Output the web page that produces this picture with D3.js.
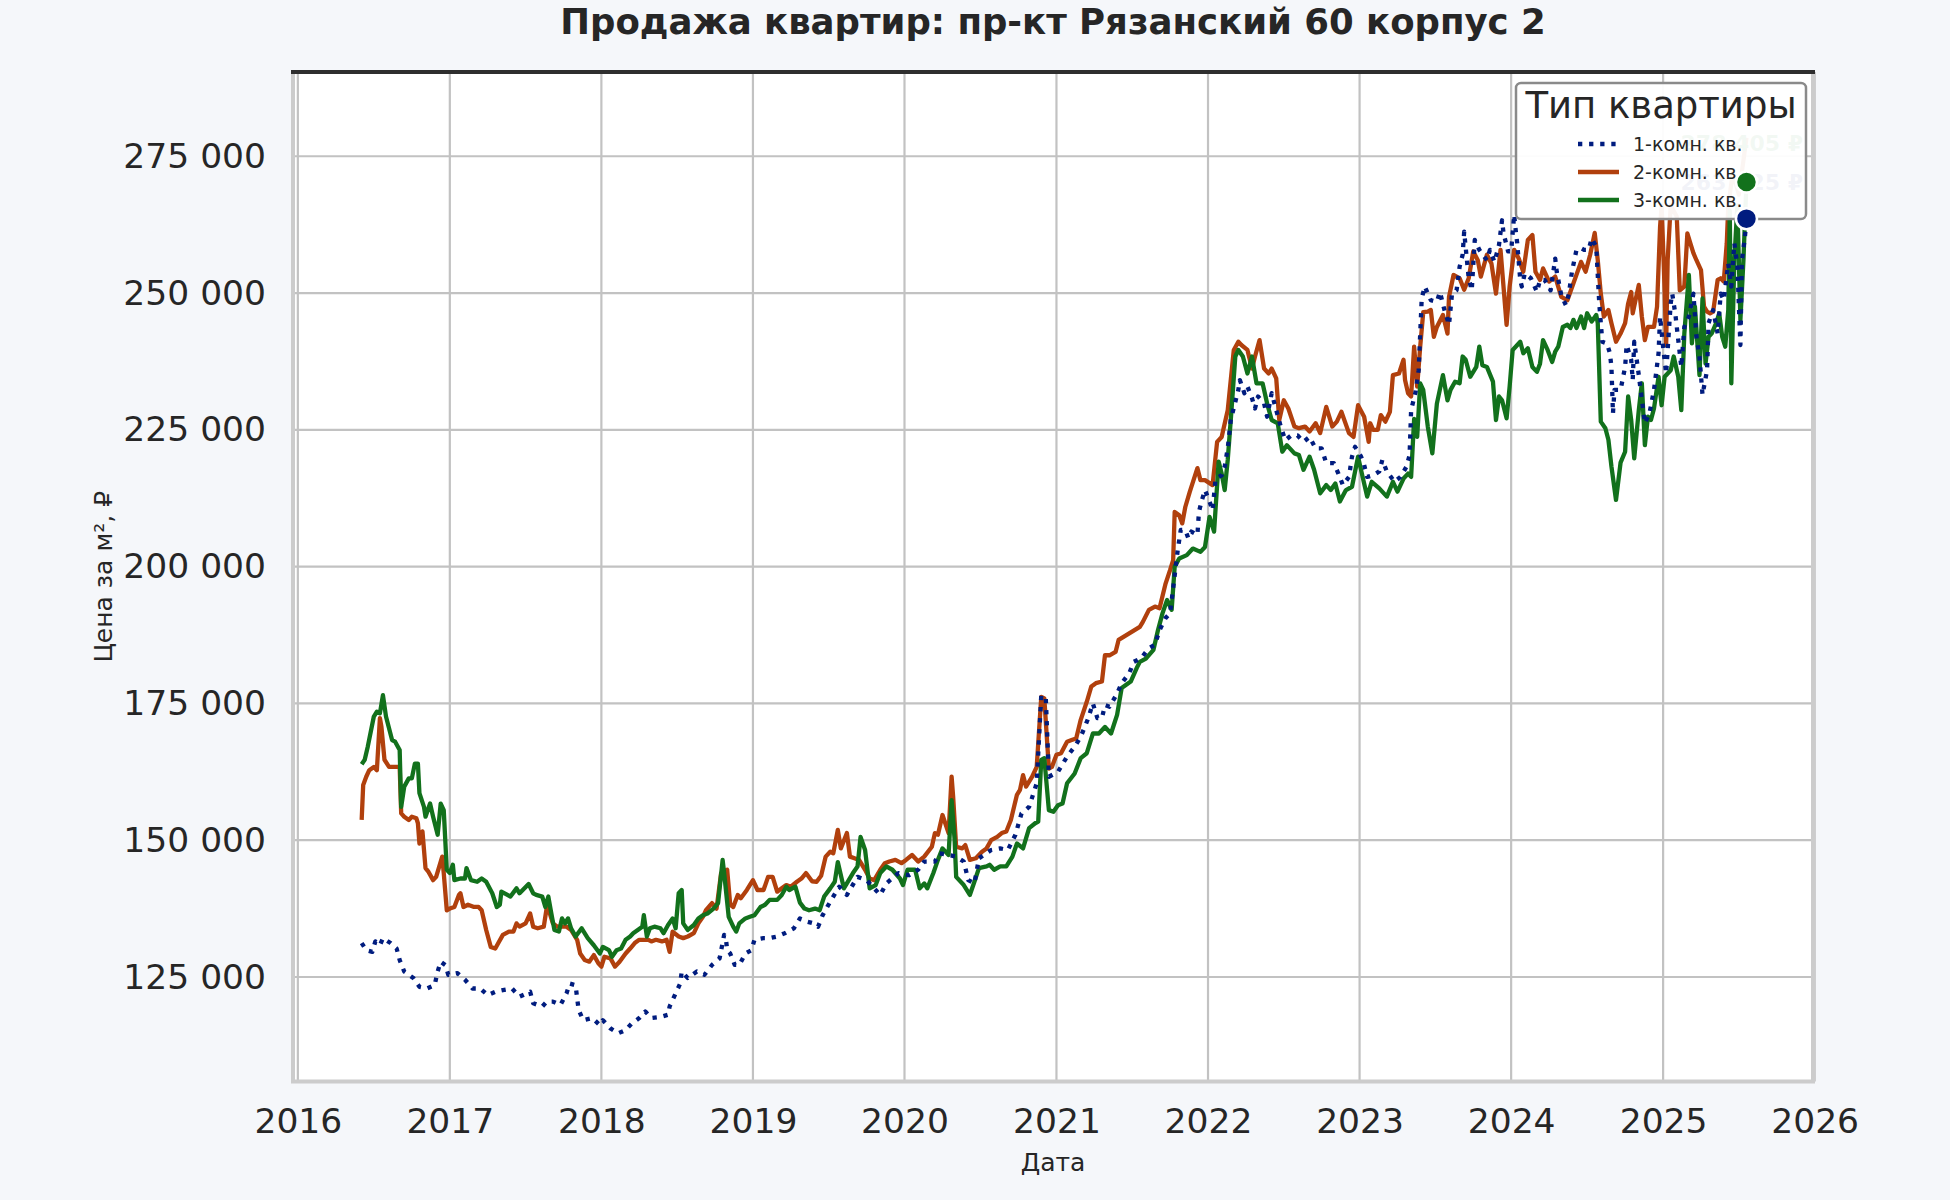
<!DOCTYPE html>
<html>
<head>
<meta charset="utf-8">
<script src="https://cdn.jsdelivr.net/npm/d3@7"></script>
<style>
  body { margin: 0; background: #f5f7fa; }
  text { font-family: "DejaVu Sans", sans-serif; }
</style>
</head>
<body>
<script>
// canvas
var W = 1950, H = 1200;
var margin = {top: 72, right: 137, bottom: 118.5, left: 293},
    width = W - margin.left - margin.right,
    height = H - margin.top - margin.bottom;

var title = "Продажа квартир: пр-кт Рязанский 60 корпус 2";
var names = ["1-комн. кв.", "2-комн. кв.", "3-комн. кв."];
var colors = ["#001c7f", "#b1400d", "#12711c"];
var yearTicks = [2016, 2017, 2018, 2019, 2020, 2021, 2022, 2023, 2024, 2025, 2026];
var priceTicks = [125000, 150000, 175000, 200000, 225000, 250000, 275000];
// last-value labels (mostly hidden under the legend)
var endLabels = ["278 405 ₽", "263 825 ₽"];

// series: [year as decimal, price in thousand rub per m2]
var one = [
  [2016.42,131.2],[2016.45,129.9],[2016.49,129.6],[2016.51,131.5],[2016.54,130.8],[2016.56,132.1],[2016.61,131.2],
  [2016.65,130.2],[2016.67,128.1],[2016.70,126.0],[2016.73,125.4],[2016.76,124.8],[2016.80,123.2],[2016.85,122.9],
  [2016.90,123.5],[2016.92,126.0],[2016.94,127.8],[2016.97,127.2],[2016.99,125.4],[2017.05,125.7],[2017.10,124.5],
  [2017.15,122.9],[2017.20,122.9],[2017.25,121.7],[2017.30,122.3],[2017.35,122.6],[2017.41,122.9],[2017.46,121.4],
  [2017.53,122.3],[2017.55,120.2],[2017.61,119.6],[2017.64,120.5],[2017.68,120.5],[2017.73,119.9],[2017.77,122.0],
  [2017.79,123.8],[2017.83,123.5],[2017.84,121.1],[2017.85,119.0],[2017.88,117.1],[2017.94,117.5],[2017.99,116.2],
  [2018.01,117.1],[2018.06,115.6],[2018.11,114.7],[2018.16,115.3],[2018.20,116.5],[2018.25,117.5],[2018.29,118.7],
  [2018.33,117.5],[2018.39,117.7],[2018.44,118.1],[2018.45,119.6],[2018.49,122.0],[2018.52,123.8],[2018.53,126.0],
  [2018.57,124.8],[2018.63,126.0],[2018.68,125.4],[2018.73,127.2],[2018.78,128.4],[2018.81,132.7],[2018.82,132.4],
  [2018.83,129.9],[2018.85,129.3],[2018.88,127.2],[2018.91,127.2],[2018.95,129.3],[2018.99,129.9],[2019.01,131.8],
  [2019.07,132.1],[2019.11,132.1],[2019.16,132.4],[2019.21,133.0],[2019.27,133.9],[2019.31,135.7],[2019.36,135.1],
  [2019.40,134.8],[2019.43,134.2],[2019.46,136.3],[2019.49,137.8],[2019.53,139.7],[2019.57,141.5],[2019.62,140.0],
  [2019.69,143.3],[2019.75,142.7],[2019.84,140.0],[2019.88,142.1],[2019.96,144.0],[2020.03,143.6],[2020.09,144.6],
  [2020.13,146.1],[2020.20,146.1],[2020.23,147.6],[2020.29,147.3],[2020.34,147.0],[2020.39,146.1],[2020.42,142.7],
  [2020.46,142.1],[2020.49,146.7],[2020.57,148.2],[2020.63,148.5],[2020.68,148.2],[2020.73,151.0],[2020.77,154.9],
  [2020.82,156.1],[2020.87,160.4],[2020.90,176.5],[2020.93,175.9],[2020.95,161.6],[2021.01,162.5],[2021.07,165.3],
  [2021.12,167.1],[2021.16,168.9],[2021.21,172.3],[2021.24,175.0],[2021.27,172.3],[2021.30,172.3],[2021.32,174.7],
  [2021.35,174.4],[2021.40,176.8],[2021.43,178.7],[2021.48,180.5],[2021.51,182.6],[2021.56,183.3],[2021.61,185.1],
  [2021.65,185.7],[2021.68,188.4],[2021.72,190.6],[2021.75,191.5],[2021.80,203.0],[2021.82,206.7],[2021.85,206.7],
  [2021.87,205.2],[2021.89,206.4],[2021.93,205.8],[2021.94,210.0],[2021.96,212.2],[2021.98,214.0],[2022.01,211.9],
  [2022.03,210.3],[2022.05,216.1],[2022.09,216.7],[2022.11,218.3],[2022.13,221.6],[2022.15,226.8],[2022.18,230.1],
  [2022.20,232.3],[2022.21,234.1],[2022.24,231.7],[2022.26,232.9],[2022.29,230.8],[2022.31,228.9],[2022.33,231.1],
  [2022.37,229.8],[2022.39,227.4],[2022.42,231.7],[2022.45,228.6],[2022.48,225.6],[2022.51,223.1],[2022.55,224.0],
  [2022.59,224.0],[2022.63,222.8],[2022.67,223.7],[2022.71,221.6],[2022.75,221.6],[2022.78,218.9],[2022.83,218.9],
  [2022.86,217.0],[2022.89,214.9],[2022.93,216.4],[2022.95,220.1],[2022.97,221.9],[2023.01,220.1],[2023.03,218.6],
  [2023.05,216.4],[2023.09,216.7],[2023.13,217.4],[2023.15,219.5],[2023.18,217.4],[2023.23,215.5],[2023.27,216.4],
  [2023.31,218.3],[2023.33,220.4],[2023.34,228.6],[2023.37,232.0],[2023.39,235.9],[2023.40,242.6],[2023.41,249.0],
  [2023.43,251.2],[2023.47,248.7],[2023.51,248.4],[2023.53,250.2],[2023.56,246.9],[2023.59,244.2],[2023.61,249.9],
  [2023.64,250.5],[2023.66,254.8],[2023.68,257.0],[2023.69,261.2],[2023.72,252.7],[2023.74,250.5],[2023.76,259.7],
  [2023.79,257.9],[2023.84,256.0],[2023.86,257.9],[2023.89,255.7],[2023.92,258.8],[2023.94,263.3],[2023.95,260.9],
  [2023.98,257.6],[2024.00,257.6],[2024.02,264.3],[2024.03,261.5],[2024.04,259.1],[2024.06,252.4],[2024.07,251.2],
  [2024.09,253.6],[2024.13,252.7],[2024.17,250.2],[2024.19,252.4],[2024.22,252.4],[2024.26,250.5],[2024.29,256.3],
  [2024.30,253.9],[2024.33,249.6],[2024.36,247.8],[2024.38,249.9],[2024.40,253.9],[2024.43,257.9],[2024.46,258.2],
  [2024.48,257.9],[2024.51,257.9],[2024.53,260.0],[2024.56,258.5],[2024.58,248.0],[2024.60,241.1],[2024.63,240.8],
  [2024.65,239.0],[2024.66,236.5],[2024.67,228.0],[2024.68,232.3],[2024.72,232.3],[2024.75,236.5],[2024.76,240.5],
  [2024.79,237.8],[2024.80,234.1],[2024.81,241.1],[2024.84,235.0],[2024.88,226.2],[2024.91,228.0],[2024.94,232.3],
  [2024.97,239.0],[2024.98,245.7],[2025.00,240.2],[2025.02,235.3],[2025.05,248.1],[2025.06,249.9],[2025.08,246.3],
  [2025.10,241.4],[2025.12,236.5],[2025.14,243.8],[2025.17,245.7],[2025.20,249.9],[2025.22,242.0],[2025.24,238.4],
  [2025.26,231.4],[2025.29,235.9],[2025.30,244.5],[2025.33,246.9],[2025.36,242.6],[2025.38,249.9],[2025.40,248.7],
  [2025.43,255.4],[2025.45,251.2],[2025.47,259.1],[2025.49,254.8],[2025.51,240.5],[2025.52,256.0],[2025.54,260.3],
  [2025.55,263.6]
];

var two = [
  [2016.42,153.7],[2016.43,160.1],[2016.45,161.6],[2016.47,162.8],[2016.50,163.4],[2016.52,162.8],[2016.54,172.3],
  [2016.55,170.7],[2016.57,164.7],[2016.60,163.4],[2016.63,163.4],[2016.65,163.4],[2016.67,163.4],[2016.68,154.9],
  [2016.70,154.3],[2016.73,153.7],[2016.75,154.3],[2016.78,154.0],[2016.79,153.1],[2016.80,149.4],[2016.82,151.6],
  [2016.84,144.9],[2016.86,144.2],[2016.89,142.7],[2016.91,143.3],[2016.95,147.0],[2016.96,144.0],[2016.98,137.2],
  [2017.00,137.5],[2017.03,137.8],[2017.06,140.0],[2017.07,140.3],[2017.09,137.8],[2017.12,138.2],[2017.16,137.8],
  [2017.19,137.8],[2017.21,137.2],[2017.24,133.6],[2017.27,130.5],[2017.30,130.2],[2017.32,131.2],[2017.35,132.7],
  [2017.39,133.3],[2017.42,133.3],[2017.44,134.8],[2017.46,134.2],[2017.50,134.8],[2017.53,136.6],[2017.55,134.2],
  [2017.58,133.9],[2017.62,134.2],[2017.64,137.8],[2017.66,136.6],[2017.68,134.8],[2017.71,134.2],[2017.74,134.2],
  [2017.77,134.2],[2017.80,133.6],[2017.84,131.8],[2017.86,129.3],[2017.89,128.1],[2017.92,127.8],[2017.95,129.0],
  [2017.98,127.5],[2018.00,126.9],[2018.02,128.7],[2018.06,128.4],[2018.09,126.9],[2018.12,127.8],[2018.16,129.3],
  [2018.19,130.2],[2018.22,131.2],[2018.25,131.8],[2018.29,131.8],[2018.31,131.8],[2018.33,131.5],[2018.36,131.8],
  [2018.40,131.5],[2018.43,131.8],[2018.45,129.6],[2018.47,133.3],[2018.51,132.4],[2018.54,132.1],[2018.57,132.4],
  [2018.61,133.0],[2018.64,134.8],[2018.67,136.0],[2018.69,137.2],[2018.73,138.5],[2018.76,137.5],[2018.79,144.0],
  [2018.83,144.6],[2018.85,138.2],[2018.87,137.8],[2018.90,140.0],[2018.92,139.4],[2018.96,140.9],[2019.00,142.7],
  [2019.03,140.9],[2019.07,140.9],[2019.10,143.3],[2019.13,143.3],[2019.16,140.6],[2019.19,141.2],[2019.22,141.8],
  [2019.25,141.5],[2019.29,142.4],[2019.32,143.0],[2019.35,144.0],[2019.39,142.5],[2019.42,142.4],[2019.45,143.5],
  [2019.48,147.0],[2019.51,147.9],[2019.53,147.6],[2019.56,151.9],[2019.58,148.5],[2019.62,151.3],[2019.64,147.0],
  [2019.67,146.7],[2019.70,146.4],[2019.74,144.6],[2019.77,143.0],[2019.80,142.7],[2019.84,144.6],[2019.87,145.8],
  [2019.90,146.1],[2019.94,146.4],[2019.98,145.8],[2020.01,146.4],[2020.05,147.3],[2020.09,146.1],[2020.13,147.0],
  [2020.18,148.8],[2020.20,151.3],[2020.22,151.0],[2020.25,154.6],[2020.29,151.3],[2020.31,161.6],[2020.32,158.0],
  [2020.34,148.8],[2020.38,148.5],[2020.40,149.1],[2020.43,146.4],[2020.47,146.7],[2020.51,147.9],[2020.54,148.5],
  [2020.57,150.0],[2020.61,150.6],[2020.64,151.3],[2020.67,151.6],[2020.70,153.7],[2020.74,158.3],[2020.76,159.2],
  [2020.78,161.9],[2020.80,159.8],[2020.84,161.6],[2020.87,163.4],[2020.90,176.2],[2020.92,175.9],[2020.95,163.1],
  [2020.97,163.4],[2021.00,165.6],[2021.03,165.9],[2021.07,168.0],[2021.10,168.3],[2021.13,168.6],[2021.16,172.0],
  [2021.20,175.3],[2021.23,178.1],[2021.26,178.7],[2021.30,179.0],[2021.32,183.8],[2021.35,183.8],[2021.39,184.4],
  [2021.41,186.6],[2021.55,189.0],[2021.57,189.9],[2021.61,192.1],[2021.65,192.7],[2021.68,192.4],[2021.72,196.9],
  [2021.75,199.4],[2021.77,201.2],[2021.78,210.0],[2021.81,209.4],[2021.83,207.9],[2021.85,210.9],[2021.88,213.7],
  [2021.93,218.0],[2021.95,215.8],[2021.98,215.8],[2022.03,214.9],[2022.06,222.8],[2022.09,223.7],[2022.13,228.6],
  [2022.17,239.6],[2022.20,241.1],[2022.22,240.5],[2022.26,239.6],[2022.29,236.2],[2022.31,238.4],[2022.34,241.4],
  [2022.37,236.2],[2022.40,235.3],[2022.42,236.2],[2022.45,234.4],[2022.47,226.8],[2022.50,230.4],[2022.53,228.9],
  [2022.57,225.6],[2022.60,225.3],[2022.64,225.6],[2022.67,224.7],[2022.71,226.2],[2022.74,224.4],[2022.78,229.2],
  [2022.82,225.6],[2022.85,226.5],[2022.88,228.3],[2022.93,224.4],[2022.96,223.7],[2022.99,229.5],[2023.03,227.4],
  [2023.06,222.8],[2023.07,226.2],[2023.09,225.0],[2023.12,225.0],[2023.14,227.7],[2023.17,226.5],[2023.20,228.3],
  [2023.22,235.0],[2023.26,235.3],[2023.29,237.8],[2023.30,234.1],[2023.32,231.7],[2023.34,231.1],[2023.36,240.2],
  [2023.38,232.9],[2023.40,240.2],[2023.42,246.5],[2023.45,246.6],[2023.47,246.9],[2023.49,242.0],[2023.51,243.8],
  [2023.55,246.0],[2023.58,242.6],[2023.59,249.3],[2023.62,253.3],[2023.66,252.7],[2023.69,250.6],[2023.72,252.7],
  [2023.75,257.6],[2023.78,256.0],[2023.80,253.0],[2023.84,257.0],[2023.87,255.4],[2023.90,249.9],[2023.93,257.9],
  [2023.97,244.2],[2023.99,251.2],[2024.02,257.9],[2024.05,256.3],[2024.08,253.9],[2024.11,259.7],[2024.14,260.6],
  [2024.16,253.9],[2024.19,252.4],[2024.21,254.5],[2024.25,252.1],[2024.29,253.0],[2024.33,249.3],[2024.37,248.7],
  [2024.41,251.8],[2024.46,255.7],[2024.49,253.9],[2024.52,257.0],[2024.55,261.0],[2024.57,256.0],[2024.59,249.9],
  [2024.61,245.7],[2024.64,246.9],[2024.66,244.5],[2024.69,241.1],[2024.72,242.6],[2024.75,244.5],[2024.77,248.1],
  [2024.79,250.2],[2024.80,246.3],[2024.84,251.5],[2024.86,245.7],[2024.88,241.4],[2024.90,243.8],[2024.94,243.8],
  [2024.96,247.5],[2024.98,262.1],[2024.99,266.0],[2025.00,258.5],[2025.01,250.5],[2025.02,240.5],[2025.03,256.0],
  [2025.05,266.0],[2025.07,265.0],[2025.09,264.0],[2025.11,250.5],[2025.14,251.2],[2025.16,260.9],[2025.18,259.1],
  [2025.20,257.3],[2025.22,256.0],[2025.25,254.2],[2025.27,247.5],[2025.29,246.6],[2025.31,246.3],[2025.33,246.6],
  [2025.36,252.4],[2025.38,252.7],[2025.40,252.1],[2025.42,259.1],[2025.43,266.0],[2025.46,272.0],[2025.50,268.0],
  [2025.55,278.4]
];

var three = [
  [2016.42,163.9],[2016.44,164.7],[2016.46,167.1],[2016.50,172.6],[2016.52,173.5],[2016.54,173.2],[2016.56,176.5],
  [2016.58,172.6],[2016.62,168.3],[2016.64,168.0],[2016.67,166.5],[2016.68,156.1],[2016.70,159.8],[2016.73,161.3],
  [2016.75,161.3],[2016.77,164.0],[2016.79,164.0],[2016.80,158.6],[2016.83,156.1],[2016.84,154.3],[2016.87,156.7],
  [2016.89,154.3],[2016.92,151.0],[2016.94,156.7],[2016.96,155.5],[2016.98,144.6],[2017.00,144.0],[2017.02,145.5],
  [2017.03,142.7],[2017.07,143.0],[2017.10,143.0],[2017.11,144.9],[2017.14,142.7],[2017.18,142.4],[2017.21,143.0],
  [2017.24,142.4],[2017.28,140.3],[2017.31,137.8],[2017.33,138.2],[2017.34,140.6],[2017.38,140.0],[2017.40,139.7],
  [2017.44,141.2],[2017.46,140.3],[2017.52,142.0],[2017.55,140.3],[2017.57,140.0],[2017.61,139.7],[2017.63,137.8],
  [2017.65,139.7],[2017.67,136.6],[2017.69,133.6],[2017.72,133.3],[2017.74,135.7],[2017.76,134.8],[2017.78,135.7],
  [2017.80,133.9],[2017.83,132.4],[2017.87,133.9],[2017.91,132.1],[2017.95,130.8],[2017.99,129.3],[2018.01,130.5],
  [2018.05,129.9],[2018.07,128.7],[2018.10,129.9],[2018.13,130.2],[2018.16,131.8],[2018.19,132.4],[2018.21,133.0],
  [2018.24,133.6],[2018.27,134.2],[2018.28,136.3],[2018.30,132.4],[2018.32,133.9],[2018.35,134.2],[2018.39,133.9],
  [2018.41,133.0],[2018.44,134.5],[2018.47,135.7],[2018.49,133.9],[2018.51,140.3],[2018.53,140.9],[2018.54,134.8],
  [2018.57,133.6],[2018.61,134.5],[2018.64,135.7],[2018.67,136.3],[2018.70,136.6],[2018.74,137.5],[2018.77,138.5],
  [2018.80,146.4],[2018.81,144.0],[2018.84,136.0],[2018.87,134.2],[2018.89,133.3],[2018.91,134.8],[2018.95,135.7],
  [2018.98,136.0],[2019.01,136.3],[2019.05,137.8],[2019.08,138.2],[2019.11,139.1],[2019.16,139.1],[2019.19,140.0],
  [2019.22,141.5],[2019.24,140.9],[2019.28,141.5],[2019.31,138.6],[2019.34,137.5],[2019.37,137.2],[2019.41,137.5],
  [2019.44,137.2],[2019.47,139.7],[2019.51,141.2],[2019.54,142.4],[2019.56,146.0],[2019.60,141.2],[2019.66,144.0],
  [2019.69,145.2],[2019.71,150.6],[2019.74,148.2],[2019.77,141.2],[2019.81,141.8],[2019.84,144.0],[2019.88,145.2],
  [2019.92,144.6],[2019.97,143.0],[2019.99,141.8],[2020.02,144.6],[2020.07,144.6],[2020.10,141.2],[2020.13,142.1],
  [2020.15,141.2],[2020.19,144.0],[2020.22,146.4],[2020.25,148.5],[2020.29,147.3],[2020.31,157.3],[2020.33,150.0],
  [2020.34,143.3],[2020.39,141.8],[2020.43,140.0],[2020.46,142.4],[2020.49,144.9],[2020.54,145.2],[2020.56,145.5],
  [2020.59,144.6],[2020.63,145.2],[2020.67,145.2],[2020.71,147.0],[2020.74,149.4],[2020.78,148.5],[2020.82,152.2],
  [2020.86,153.1],[2020.88,153.4],[2020.90,164.7],[2020.92,165.0],[2020.95,155.5],[2020.98,155.2],[2021.01,156.4],
  [2021.04,156.7],[2021.07,160.4],[2021.12,162.2],[2021.16,165.0],[2021.20,165.9],[2021.24,169.5],[2021.28,169.5],
  [2021.32,170.7],[2021.36,169.5],[2021.40,172.9],[2021.43,177.8],[2021.49,179.0],[2021.53,181.5],[2021.55,182.6],
  [2021.59,183.2],[2021.64,184.8],[2021.67,188.4],[2021.70,191.5],[2021.73,193.9],[2021.76,192.1],[2021.78,200.0],
  [2021.81,201.5],[2021.86,202.1],[2021.90,203.3],[2021.95,202.7],[2021.98,203.6],[2022.01,209.1],[2022.04,206.4],
  [2022.07,219.2],[2022.09,217.0],[2022.11,214.0],[2022.13,219.5],[2022.15,226.8],[2022.18,238.4],[2022.20,239.6],
  [2022.23,238.4],[2022.26,235.3],[2022.29,238.4],[2022.32,233.5],[2022.36,233.5],[2022.39,229.8],[2022.42,226.8],
  [2022.46,226.2],[2022.49,221.0],[2022.52,222.2],[2022.57,220.7],[2022.60,220.4],[2022.63,217.7],[2022.67,220.1],
  [2022.70,217.7],[2022.74,213.4],[2022.78,214.9],[2022.81,214.0],[2022.84,215.2],[2022.87,211.9],[2022.91,214.0],
  [2022.95,214.6],[2022.99,220.1],[2023.02,216.4],[2023.05,212.8],[2023.08,215.5],[2023.13,214.3],[2023.18,212.8],
  [2023.22,215.5],[2023.25,213.7],[2023.29,216.1],[2023.32,217.0],[2023.34,216.4],[2023.36,227.0],[2023.38,223.7],
  [2023.40,233.5],[2023.42,232.3],[2023.45,225.6],[2023.48,220.7],[2023.51,229.8],[2023.55,235.0],[2023.58,230.4],
  [2023.60,232.3],[2023.63,233.8],[2023.66,233.5],[2023.68,238.4],[2023.70,237.8],[2023.73,234.7],[2023.77,236.5],
  [2023.79,240.2],[2023.81,236.8],[2023.84,236.5],[2023.88,233.8],[2023.90,226.8],[2023.92,231.1],[2023.94,230.4],
  [2023.97,227.1],[2023.99,232.9],[2024.01,239.6],[2024.03,240.2],[2024.06,241.1],[2024.08,239.0],[2024.11,239.9],
  [2024.14,236.5],[2024.17,235.6],[2024.19,237.1],[2024.21,241.4],[2024.24,239.6],[2024.27,237.4],[2024.29,239.3],
  [2024.31,240.2],[2024.34,243.8],[2024.37,244.2],[2024.39,243.6],[2024.41,245.1],[2024.43,243.6],[2024.46,245.7],
  [2024.48,243.6],[2024.50,246.3],[2024.53,244.8],[2024.56,246.0],[2024.57,244.5],[2024.59,226.5],[2024.62,225.3],
  [2024.64,223.2],[2024.66,218.3],[2024.69,212.2],[2024.72,219.0],[2024.75,221.0],[2024.77,231.1],[2024.79,226.8],
  [2024.81,219.8],[2024.84,228.6],[2024.86,233.5],[2024.88,222.2],[2024.90,227.4],[2024.92,226.8],[2024.94,228.9],
  [2024.97,234.7],[2024.99,229.5],[2025.01,234.7],[2025.05,235.9],[2025.07,238.4],[2025.10,234.7],[2025.12,228.6],
  [2025.14,242.6],[2025.17,253.3],[2025.19,240.8],[2025.21,247.5],[2025.24,235.0],[2025.26,249.0],[2025.28,237.1],
  [2025.30,242.0],[2025.32,242.6],[2025.35,244.5],[2025.37,246.3],[2025.39,242.0],[2025.41,240.2],[2025.43,246.9],
  [2025.44,265.0],[2025.45,233.5],[2025.47,256.0],[2025.49,266.0],[2025.51,245.1],[2025.53,256.0],[2025.55,270.3]
];

var series = [one, two, three];

// decimal year -> Date
function yearToDate(t) {
  var yr = Math.floor(t);
  var a = new Date(yr, 0, 1), b = new Date(yr + 1, 0, 1);
  return new Date(+a + (t - yr) * (b - a));
}

var svg = d3.select("body").append("svg")
    .attr("width", W)
    .attr("height", H);

svg.append("rect").attr("width", W).attr("height", H).attr("fill", "#f5f7fa");

var g = svg.append("g")
    .attr("transform", "translate(" + margin.left + "," + margin.top + ")");

var x = d3.scaleTime()
    .domain([yearToDate(2015.968), yearToDate(2025.989)])
    .range([0, width]);

var y = d3.scaleLinear()
    .domain([105900, 290400])
    .range([height, 0]);

// plot background
g.append("rect")
    .attr("width", width)
    .attr("height", height)
    .attr("fill", "#ffffff");

// grid
g.append("g").selectAll("line")
    .data(yearTicks)
  .enter().append("line")
    .attr("x1", function(d) { return x(new Date(d, 0, 1)); })
    .attr("x2", function(d) { return x(new Date(d, 0, 1)); })
    .attr("y1", 0).attr("y2", height)
    .style("stroke", "#c2c2c2").style("stroke-width", 2.2);

g.append("g").selectAll("line")
    .data(priceTicks)
  .enter().append("line")
    .attr("x1", 0).attr("x2", width)
    .attr("y1", function(d) { return y(d); })
    .attr("y2", function(d) { return y(d); })
    .style("stroke", "#c2c2c2").style("stroke-width", 2.2);

// axes
var fmt = d3.formatLocale({decimal: ",", thousands: " ", grouping: [3], currency: ["", ""]}).format(",d");

var xAxis = d3.axisBottom(x)
    .tickValues(yearTicks.map(function(d) { return new Date(d, 0, 1); }))
    .tickFormat(d3.timeFormat("%Y"))
    .tickSize(0).tickPadding(27);

var yAxis = d3.axisLeft(y)
    .tickValues(priceTicks)
    .tickFormat(fmt)
    .tickSize(0).tickPadding(27);

g.append("g")
    .attr("class", "x axis")
    .attr("transform", "translate(0," + height + ")")
    .call(xAxis);

g.append("g")
    .attr("class", "y axis")
    .call(yAxis);

g.selectAll(".axis .domain").remove();
g.selectAll(".axis text")
    .style("font-family", "DejaVu Sans")
    .style("font-size", "34.5px")
    .style("fill", "#262626");

// lines
svg.append("defs").append("clipPath").attr("id", "plotclip")
  .append("rect").attr("width", width).attr("height", height);

var line = d3.line()
    .x(function(d) { return x(yearToDate(d[0])); })
    .y(function(d) { return y(d[1] * 1000); });

var lines = g.append("g").attr("clip-path", "url(#plotclip)");

[1, 2, 0].forEach(function(i) {
  lines.append("path")
      .datum(series[i])
      .attr("d", line)
      .style("fill", "none")
      .style("stroke", colors[i])
      .style("stroke-width", 4.3)
      .style("stroke-linejoin", "round")
      .style("stroke-dasharray", i == 0 ? "4.3,6.8" : null);
});

// end value labels, they end up under the legend box
var lastG = three[three.length - 1], lastB = one[one.length - 1];
g.append("text")
    .attr("x", width - 10)
    .attr("y", y(lastG[1] * 1000) - 31)
    .style("text-anchor", "end")
    .style("font-size", "22px").style("font-weight", "bold")
    .style("fill", colors[2])
    .text(endLabels[0]);
g.append("text")
    .attr("x", width - 10)
    .attr("y", y(lastB[1] * 1000) - 29)
    .style("text-anchor", "end")
    .style("font-size", "22px").style("font-weight", "bold")
    .style("fill", colors[0])
    .text(endLabels[1]);

// spines
g.append("line").attr("x1", 0).attr("x2", 0).attr("y1", 0).attr("y2", height)
    .style("stroke", "#cccccc").style("stroke-width", 4);
g.append("line").attr("x1", width).attr("x2", width).attr("y1", 0).attr("y2", height)
    .style("stroke", "#cccccc").style("stroke-width", 4);
g.append("line").attr("x1", -2).attr("x2", width + 2).attr("y1", height).attr("y2", height)
    .style("stroke", "#cccccc").style("stroke-width", 4);
g.append("line").attr("x1", -2).attr("x2", width + 2).attr("y1", 0).attr("y2", 0)
    .style("stroke", "#2e2e2e").style("stroke-width", 4);

// legend
var lg = svg.append("g").attr("transform", "translate(1516,83)");
lg.append("rect")
    .attr("width", 290).attr("height", 136)
    .attr("rx", 5)
    .style("fill", "#ffffff").style("fill-opacity", 0.95)
    .style("stroke", "#8a8a8a").style("stroke-width", 2.5);
lg.append("text")
    .attr("x", 145).attr("y", 35)
    .style("text-anchor", "middle")
    .style("font-size", "37px")
    .style("fill", "#262626")
    .text("Тип квартиры");
names.forEach(function(n, i) {
  var yy = 61 + i * 28;
  lg.append("line")
      .attr("x1", 62).attr("x2", 103)
      .attr("y1", yy).attr("y2", yy)
      .style("stroke", colors[i])
      .style("stroke-width", 4.3)
      .style("stroke-dasharray", i == 0 ? "4.3,6.8" : null);
  lg.append("text")
      .attr("x", 117).attr("y", yy)
      .attr("dy", "0.35em")
      .style("font-size", "19px")
      .style("fill", "#262626")
      .text(n);
});

// end markers sit above the legend
var dots = svg.append("g")
    .attr("transform", "translate(" + margin.left + "," + margin.top + ")");
[[lastG, colors[2]], [lastB, colors[0]]].forEach(function(p) {
  dots.append("circle")
      .attr("cx", x(yearToDate(p[0][0])))
      .attr("cy", y(p[0][1] * 1000))
      .attr("r", 10.5)
      .style("fill", p[1])
      .style("stroke", "#ffffff")
      .style("stroke-width", 2.5);
});

// titles
svg.append("text")
    .attr("x", margin.left + width / 2)
    .attr("y", 34)
    .style("text-anchor", "middle")
    .style("font-size", "35.5px")
    .style("font-weight", "bold")
    .style("fill", "#262626")
    .text(title);

svg.append("text")
    .attr("x", margin.left + width / 2)
    .attr("y", 1162)
    .attr("dy", "0.35em")
    .style("text-anchor", "middle")
    .style("font-size", "25px")
    .style("fill", "#262626")
    .text("Дата");

svg.append("text")
    .attr("transform", "translate(103," + (margin.top + height / 2) + ") rotate(-90)")
    .attr("dy", "0.35em")
    .style("text-anchor", "middle")
    .style("font-size", "25px")
    .style("fill", "#262626")
    .text("Цена за м², ₽");
</script>
</body>
</html>
